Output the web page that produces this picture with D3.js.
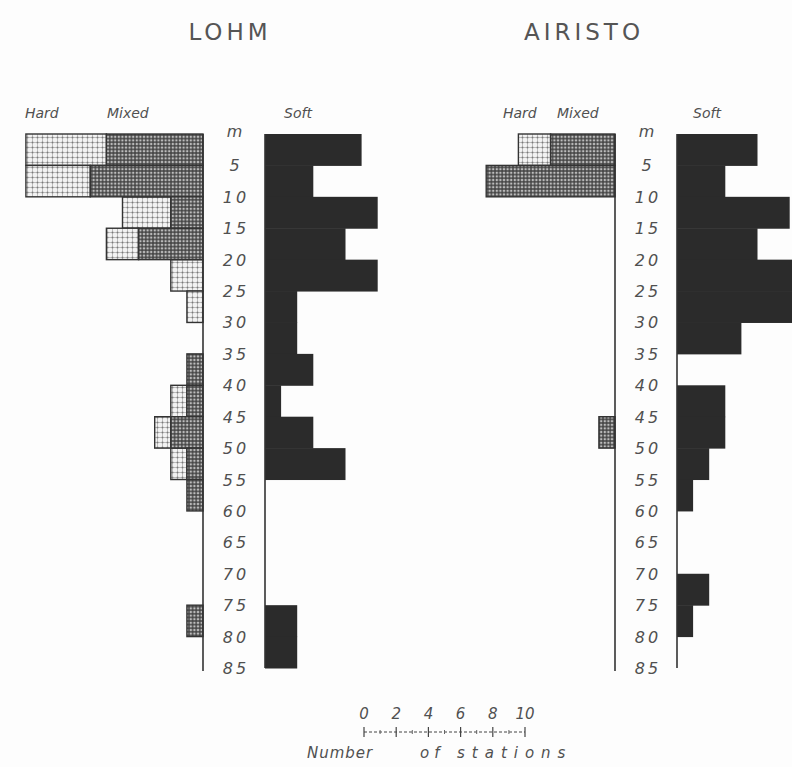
<!DOCTYPE html>
<html>
<head>
<meta charset="utf-8">
<script src="https://cdn.jsdelivr.net/npm/d3@7"></script>
<style>
  html, body { margin: 0; padding: 0; background: #fdfdfd; }
  svg { display: block; }
  .title { font-family: "DejaVu Sans", sans-serif; font-size: 23px; fill: #555; letter-spacing: 4px; }
  .head { font-family: "DejaVu Sans", sans-serif; font-style: italic; font-size: 14px; fill: #505050; }
  .depth { font-family: "DejaVu Sans", sans-serif; font-style: italic; font-size: 16px; fill: #505050; letter-spacing: 3px; }
  .scale { font-family: "DejaVu Sans", sans-serif; font-style: italic; font-size: 15px; fill: #505050; }
</style>
</head>
<body>
<svg id="chart" width="792" height="767"></svg>
<script>
// Depth intervals of 5 m, from 0 to 85 m
const depthStarts = d3.range(0, 85, 5);
const depthTicks = d3.range(0, 90, 5);
const depthLabels = ["m", "5", "10", "15", "20", "25", "30", "35", "40", "45",
                     "50", "55", "60", "65", "70", "75", "80", "85"];

// Number of stations per depth interval and bottom type
const lohmHard    = [5, 4, 3, 2, 2, 1, 0, 0, 1, 1, 1, 0, 0, 0, 0, 0, 0];
const lohmMixed   = [6, 7, 2, 4, 0, 0, 0, 1, 1, 2, 1, 1, 0, 0, 0, 1, 0];
const lohmSoft    = [6, 3, 7, 5, 7, 2, 2, 3, 1, 3, 5, 0, 0, 0, 0, 2, 2];

const airistoHard  = [2, 0, 0, 0, 0, 0, 0, 0, 0, 0, 0, 0, 0, 0, 0, 0, 0];
const airistoMixed = [4, 8, 0, 0, 0, 0, 0, 0, 0, 1, 0, 0, 0, 0, 0, 0, 0];
const airistoSoft  = [5, 3, 7, 5, 8, 8, 4, 0, 3, 3, 2, 1, 0, 0, 2, 1, 0];

const scaleTicks = [0, 2, 4, 6, 8, 10];

const svg = d3.select("#chart");

// Fill patterns for hard and mixed bottoms
const defs = svg.append("defs");
const hardPat = defs.append("pattern")
  .attr("id", "hard").attr("patternUnits", "userSpaceOnUse")
  .attr("width", 5).attr("height", 5);
hardPat.append("rect").attr("width", 5).attr("height", 5).attr("fill", "#f2f2f2");
hardPat.append("path").attr("d", "M0,2.5H5M2.5,0V5")
  .attr("stroke", "#adadad").attr("stroke-width", 0.8);
hardPat.append("rect").attr("x", 1.7).attr("y", 1.7).attr("width", 1.6).attr("height", 1.6).attr("fill", "#7a7a7a");

const mixPat = defs.append("pattern")
  .attr("id", "mixed").attr("patternUnits", "userSpaceOnUse")
  .attr("width", 3.6).attr("height", 3.6);
mixPat.append("rect").attr("width", 3.6).attr("height", 3.6).attr("fill", "#bdbdbd");
mixPat.append("path").attr("d", "M0,1.8H3.6M1.8,0V3.6")
  .attr("stroke", "#3e3e3e").attr("stroke-width", 1.3);

// Shared scales
const y = d3.scaleLinear().domain([0, 85]).range([134, 668]);
const unit = 16.1; // pixels per station
const count = d3.scaleLinear().domain([0, 10]).range([0, unit * 10]);

function drawPanel(opts) {
  const g = svg.append("g");
  const { leftAxis, softAxis, hard, mixed, soft, name, titleX, heads } = opts;

  g.append("text").attr("class", "title")
    .attr("x", titleX).attr("y", 40).attr("text-anchor", "middle").text(name);

  heads.forEach(h => {
    g.append("text").attr("class", "head")
      .attr("x", h.x).attr("y", 118).text(h.t);
  });

  const rows = depthStarts.map((d, i) => ({
    d, hard: hard[i], mixed: mixed[i], soft: soft[i]
  }));

  // Hard (outer) and mixed (next to the axis) bars, extending to the left
  g.selectAll(".hardbar").data(rows.filter(r => r.hard > 0)).join("rect")
    .attr("x", r => leftAxis - count(r.mixed + r.hard))
    .attr("width", r => count(r.hard))
    .attr("y", r => y(r.d))
    .attr("height", r => y(r.d + 5) - y(r.d))
    .attr("fill", "url(#hard)")
    .attr("stroke", "#333").attr("stroke-width", 1.4);

  g.selectAll(".mixbar").data(rows.filter(r => r.mixed > 0)).join("rect")
    .attr("x", r => leftAxis - count(r.mixed))
    .attr("width", r => count(r.mixed))
    .attr("y", r => y(r.d))
    .attr("height", r => y(r.d + 5) - y(r.d))
    .attr("fill", "url(#mixed)")
    .attr("stroke", "#333").attr("stroke-width", 1.4);

  // Soft bars, extending to the right
  g.selectAll(".softbar").data(rows.filter(r => r.soft > 0)).join("rect")
    .attr("x", softAxis)
    .attr("width", r => count(r.soft))
    .attr("y", r => y(r.d))
    .attr("height", r => y(r.d + 5) - y(r.d) + 0.5)
    .attr("fill", "#2b2b2b");

  // Axis lines
  g.append("line").attr("x1", leftAxis).attr("x2", leftAxis)
    .attr("y1", y(0)).attr("y2", y(85) + 3)
    .attr("stroke", "#333").attr("stroke-width", 1.6);
  g.append("line").attr("x1", softAxis).attr("x2", softAxis)
    .attr("y1", y(0)).attr("y2", y(85))
    .attr("stroke", "#333").attr("stroke-width", 1.6);

  // Depth labels between the two axes
  g.selectAll(".depth").data(depthTicks).join("text")
    .attr("class", "depth")
    .attr("x", (leftAxis + softAxis) / 2 + 2)
    .attr("y", d => y(d) + (d === 0 ? 3 : 6))
    .attr("text-anchor", "middle")
    .text((d, i) => depthLabels[i]);
}

drawPanel({
  name: "LOHM", titleX: 230, leftAxis: 203, softAxis: 265,
  hard: lohmHard, mixed: lohmMixed, soft: lohmSoft,
  heads: [{ x: 25, t: "Hard" }, { x: 107, t: "Mixed" }, { x: 284, t: "Soft" }]
});

drawPanel({
  name: "AIRISTO", titleX: 584, leftAxis: 615, softAxis: 677,
  hard: airistoHard, mixed: airistoMixed, soft: airistoSoft,
  heads: [{ x: 503, t: "Hard" }, { x: 557, t: "Mixed" }, { x: 693, t: "Soft" }]
});

// Scale bar: number of stations
const sx0 = 364;
const sg = svg.append("g");
const sScale = d3.scaleLinear().domain([0, 10]).range([sx0, sx0 + count(10)]);
sg.append("line").attr("x1", sScale(0)).attr("x2", sScale(10))
  .attr("y1", 732).attr("y2", 732).attr("stroke", "#444").attr("stroke-width", 1)
  .attr("stroke-dasharray", "3,2");
sg.selectAll(".maj").data(scaleTicks).join("line")
  .attr("x1", d => sScale(d)).attr("x2", d => sScale(d))
  .attr("y1", 727).attr("y2", 737).attr("stroke", "#444").attr("stroke-width", 1.2);
sg.selectAll(".mino").data(d3.range(1, 10, 2)).join("line")
  .attr("x1", d => sScale(d)).attr("x2", d => sScale(d))
  .attr("y1", 730).attr("y2", 734).attr("stroke", "#666").attr("stroke-width", 1);
sg.selectAll(".lab").data(scaleTicks).join("text")
  .attr("class", "scale")
  .attr("x", d => sScale(d)).attr("y", 719).attr("text-anchor", "middle")
  .text(d => d);
sg.append("text").attr("class", "scale").attr("x", 307).attr("y", 758)
  .attr("letter-spacing", "1px").text("Number");
sg.append("text").attr("class", "scale").attr("x", 420).attr("y", 758)
  .attr("letter-spacing", "5px").text("of");
sg.append("text").attr("class", "scale").attr("x", 457).attr("y", 758)
  .attr("letter-spacing", "7px").text("stations");
</script>
</body>
</html>
